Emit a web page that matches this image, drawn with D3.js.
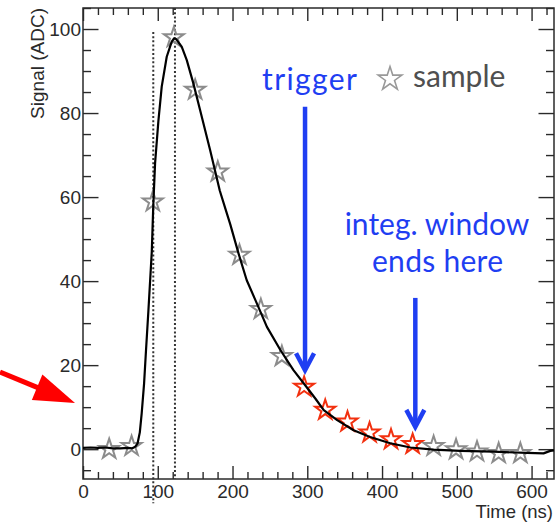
<!DOCTYPE html>
<html>
<head>
<meta charset="utf-8">
<script src="https://cdn.jsdelivr.net/npm/d3@7"></script>
<style>
  html, body { margin: 0; padding: 0; background: #fff; }
  svg { display: block; }
</style>
</head>
<body>
<svg id="chart" width="560" height="523"></svg>
<script>
// Recorded pulse waveform: time (ns) and amplitude (ADC counts)
const waveTime = [0, 10, 20, 30, 40, 50, 60, 66, 70, 73, 76, 78.5, 81.7, 84.3, 87.5, 90.6, 92, 94, 96.4,
  100.8, 105.3, 112, 118.7, 122, 124.5, 132, 138.8, 147.7, 156.6, 170, 183, 190, 197, 208, 219, 232.5,
  246, 264, 281.5, 299, 311, 322, 340, 362, 384, 411, 438, 469, 505, 549, 594, 616, 625, 630];
const waveSignal = [0.3, 0.4, 0.3, 0.4, 0.2, 0.2, 0.3, 0.2, 0.6, 1.4, 4.0, 8.5, 15.6, 23.6, 33, 42.6, 47, 58, 68,
  78, 86.3, 93.4, 97, 97.8, 97.6, 95.8, 92.6, 87, 80.7, 71.2, 61.5, 57.5, 53.5, 46.6, 40.2, 34.7,
  29.1, 23.6, 18.8, 14.8, 12.0, 9.3, 6.9, 4.5, 2.9, 1.4, 0.4, -0.1, -0.4, -0.6, -0.9, -1.0, -0.4, -0.3];

// Digitised samples and whether each one lies in the integration window
const sampleTime = [35, 65, 93.4, 121.5, 150, 180.3, 209.3, 237.9, 266, 295.8, 324, 353.8, 383.3, 412,
  440.9, 469, 499, 527, 556, 585];
const sampleSignal = [0.0, 0.7, 58.9, 98.0, 85.5, 66.0, 46.2, 33.3, 22.1, 14.8, 9.3, 6.5, 3.9, 2.3,
  1.2, 0.7, -0.1, -0.6, -1.0, -1.0];
const sampleInWindow = [false, false, false, false, false, false, false, false, false, true, true, true,
  true, true, true, false, false, false, false, false];

// Dotted reference times (ns): rise crossing and peak
const markerTime = [94, 123];

// Trigger and end of the integration window (ns)
const triggerTime = 297;
const windowEndTime = 444.5;

// Axis ticks
const xTicks = [0, 100, 200, 300, 400, 500, 600];
const yTicks = [0, 20, 40, 60, 80, 100];

const frame = { left: 83, right: 554, top: 8, bottom: 479 };

const x = d3.scaleLinear().domain([0, 630]).range([frame.left, frame.right]);
const y = d3.scaleLinear().domain([-7.1, 105]).range([frame.bottom, frame.top]);

const svg = d3.select("#chart");
const axisFont = "'Liberation Sans', Arial, Helvetica, sans-serif";
const noteFont = "Lato, 'Open Sans', sans-serif";
const axisColor = "#2a2a2a";
const blue = "#1f3ef2";

// ---- ticks (pointing inward on all four sides) ----
const xMinor = d3.range(0, 631, 20).filter(v => v % 100 !== 0);
const yMinor = d3.range(-5, 106, 5).filter(v => v % 20 !== 0);

function styleAxis(g) {
  g.select(".domain").remove();
  g.selectAll("line").attr("stroke", axisColor).attr("stroke-width", 1.4);
  g.selectAll("text").attr("fill", axisColor).attr("font-family", axisFont).attr("font-size", 19);
}

svg.append("g").attr("transform", `translate(0,${frame.bottom})`)
  .call(d3.axisBottom(x).tickValues(xTicks).tickSize(-13).tickPadding(6).tickFormat(d3.format("d")))
  .call(styleAxis);
svg.append("g").attr("transform", `translate(0,${frame.bottom})`)
  .call(d3.axisBottom(x).tickValues(xMinor).tickSize(-7).tickFormat(""))
  .call(styleAxis);
svg.append("g").attr("transform", `translate(0,${frame.top})`)
  .call(d3.axisTop(x).tickValues(xTicks).tickSize(-13).tickFormat(""))
  .call(styleAxis);
svg.append("g").attr("transform", `translate(0,${frame.top})`)
  .call(d3.axisTop(x).tickValues(xMinor).tickSize(-7).tickFormat(""))
  .call(styleAxis);

svg.append("g").attr("transform", `translate(${frame.left},0)`)
  .call(d3.axisLeft(y).tickValues(yTicks).tickSize(-15.5).tickPadding(2).tickFormat(d3.format("d")))
  .call(styleAxis);
svg.append("g").attr("transform", `translate(${frame.left},0)`)
  .call(d3.axisLeft(y).tickValues(yMinor).tickSize(-8).tickFormat(""))
  .call(styleAxis);
svg.append("g").attr("transform", `translate(${frame.right},0)`)
  .call(d3.axisRight(y).tickValues(yTicks).tickSize(-15.5).tickFormat(""))
  .call(styleAxis);
svg.append("g").attr("transform", `translate(${frame.right},0)`)
  .call(d3.axisRight(y).tickValues(yMinor).tickSize(-8).tickFormat(""))
  .call(styleAxis);

// frame
svg.append("rect")
  .attr("x", frame.left).attr("y", frame.top)
  .attr("width", frame.right - frame.left).attr("height", frame.bottom - frame.top)
  .attr("fill", "none").attr("stroke", axisColor).attr("stroke-width", 1.5);

// axis titles
svg.append("text")
  .attr("x", frame.right - 1).attr("y", 518)
  .attr("text-anchor", "end")
  .attr("font-family", axisFont).attr("font-size", 18.5).attr("fill", axisColor)
  .text("Time (ns)");
svg.append("text")
  .attr("transform", `translate(44,${frame.top}) rotate(-90)`)
  .attr("text-anchor", "end")
  .attr("font-family", axisFont).attr("font-size", 19).attr("fill", axisColor)
  .text("Signal (ADC)");

// ---- dotted reference lines ----
svg.append("g").selectAll("line")
  .data(markerTime)
  .join("line")
  .attr("x1", d => x(d)).attr("x2", d => x(d))
  .attr("y1", (d, i) => i === 0 ? y(99.3) : y(105))
  .attr("y2", (d, i) => i === 0 ? y(-12.9) : y(-7.1))
  .attr("stroke", "#333").attr("stroke-width", 2)
  .attr("stroke-dasharray", "2,2.2");

// ---- samples (open stars) ----
const samples = sampleTime.map((t, i) => ({ t, v: sampleSignal[i], inWin: sampleInWindow[i] }));
const starPath = d3.symbol(d3.symbolStar, 124)();

svg.append("g").selectAll("path")
  .data(samples)
  .join("path")
  .attr("d", starPath)
  .attr("transform", d => `translate(${x(d.t)},${y(d.v)})`)
  .attr("fill", "none")
  .attr("stroke", d => d.inWin ? "#f2300f" : "#8c8c8c")
  .attr("stroke-width", 2)
  .attr("stroke-linejoin", "miter");

// ---- waveform ----
const wave = waveTime.map((t, i) => ({ t, v: waveSignal[i] }));
svg.append("path")
  .datum(wave)
  .attr("d", d3.line().x(d => x(d.t)).y(d => y(d.v)))
  .attr("fill", "none")
  .attr("stroke", "#000")
  .attr("stroke-width", 2.2)
  .attr("stroke-linejoin", "round");

// ---- blue arrows ----
function downArrow(t, vTop, vTip) {
  const g = svg.append("g").attr("stroke", blue).attr("stroke-width", 4.5).attr("fill", "none");
  const xa = x(t), yTop = y(vTop), yTip = y(vTip);
  g.append("line").attr("x1", xa).attr("x2", xa).attr("y1", yTop).attr("y2", yTip - 2);
  g.append("polyline")
    .attr("points", `${xa - 9},${yTip - 17} ${xa},${yTip} ${xa + 9},${yTip - 17}`)
    .attr("stroke-linejoin", "miter");
}
downArrow(triggerTime, 81.5, 18.8);
downArrow(windowEndTime, 36, 5.3);

// ---- annotation text ----
svg.append("text")
  .attr("x", 262).attr("y", 90)
  .attr("font-family", noteFont).attr("font-size", 30).attr("fill", blue)
  .attr("textLength", 95).attr("lengthAdjust", "spacing")
  .text("trigger");

svg.append("path")
  .attr("d", d3.symbol(d3.symbolStar, 175)())
  .attr("transform", "translate(390,79)")
  .attr("fill", "none").attr("stroke", "#999").attr("stroke-width", 1.6);
svg.append("text")
  .attr("x", 413).attr("y", 87)
  .attr("font-family", noteFont).attr("font-size", 30).attr("fill", "#4f4f4f")
  .text("sample");

svg.append("text")
  .attr("x", 437).attr("y", 235)
  .attr("text-anchor", "middle")
  .attr("font-family", noteFont).attr("font-size", 30).attr("fill", blue)
  .text("integ. window");
svg.append("text")
  .attr("x", 437.5).attr("y", 272)
  .attr("text-anchor", "middle")
  .attr("font-family", noteFont).attr("font-size", 30).attr("fill", blue)
  .attr("textLength", 131).attr("lengthAdjust", "spacing")
  .text("ends here");

// ---- red arrow pointing at the baseline ----
(function () {
  const tail = [0, 372], tip = [75, 403];
  const dx = tip[0] - tail[0], dy = tip[1] - tail[1];
  const len = Math.hypot(dx, dy);
  const ux = dx / len, uy = dy / len, nx = -uy, ny = ux;
  const headLen = 41, halfW = 13.8;
  const bx = tip[0] - ux * headLen, by = tip[1] - uy * headLen;
  svg.append("line")
    .attr("x1", tail[0]).attr("y1", tail[1])
    .attr("x2", bx + ux * 2).attr("y2", by + uy * 2)
    .attr("stroke", "#ff0000").attr("stroke-width", 5);
  svg.append("polygon")
    .attr("points", `${tip[0]},${tip[1]} ${bx + nx * halfW},${by + ny * halfW} ${bx - nx * halfW},${by - ny * halfW}`)
    .attr("fill", "#ff0000");
})();
</script>
</body>
</html>
